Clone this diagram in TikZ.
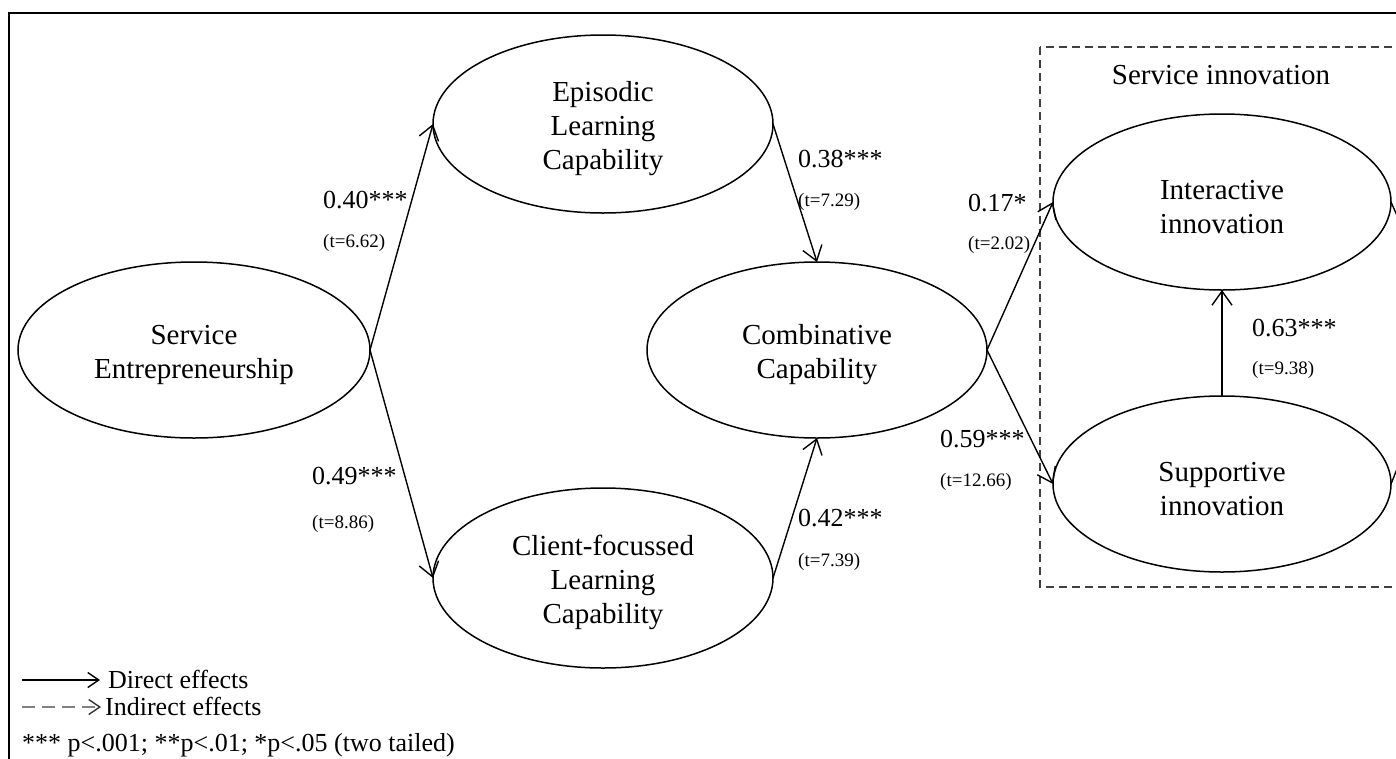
\documentclass[tikz,border=0pt]{standalone}
\usepackage{fontspec}
\setmainfont{Liberation Serif}
\usetikzlibrary{arrows.meta,shapes.geometric}
\newcommand{\firstline}{\rule{0pt}{30pt}}
\begin{document}
\begin{tikzpicture}[x=1pt,y=-1pt,
  latent/.style={draw, ellipse, line width=1.5pt, inner sep=0pt, outer sep=0pt, align=center, font=\fontsize{29}{34}\selectfont},
  pathArrow/.style={line width=1.4pt, -{Straight Barb[length=14pt,width=20pt,line width=1.4pt]}},
  coef/.style={anchor=base west, inner sep=0pt, font=\fontsize{26}{30}\selectfont},
  tval/.style={anchor=base west, inner sep=0pt, font=\fontsize{19}{22}\selectfont},
  legtext/.style={anchor=base west, inner sep=0pt, font=\fontsize{26}{30}\selectfont},
  legArrow/.style={line width=1.4pt, -{Straight Barb[length=11pt,width=15pt,line width=1.4pt]}}
]
\useasboundingbox (0,0) rectangle (1396,758);
\begin{scope}
\clip (0,0) rectangle (1396,758);
% outer frame
\draw[line width=2.5pt] (9,13) rectangle (1430,790);
% service innovation dashed box
\draw[line width=1.4pt, draw=black!75, dash pattern=on 8pt off 5pt] (1040,47) rectangle (1430,587);
\node[inner sep=0pt, font=\fontsize{29}{34}\selectfont] (sinnov) at (1221,75) {Service innovation};

% latent variables
\node[latent, minimum width=352pt, minimum height=176pt] (se) at (194,350) {\firstline Service\\Entrepreneurship};
\node[latent, minimum width=340pt, minimum height=178pt] (ep) at (603,124) {\firstline Episodic\\Learning\\Capability};
\node[latent, minimum width=340pt, minimum height=180pt] (cl) at (603,578) {\firstline Client-focussed\\Learning\\Capability};
\node[latent, minimum width=340pt, minimum height=176pt] (co) at (817,350) {\firstline Combinative\\Capability};
\node[latent, minimum width=338pt, minimum height=176pt] (in) at (1222,202) {\firstline Interactive\\innovation};
\node[latent, minimum width=338pt, minimum height=176pt] (su) at (1222,484) {\firstline Supportive\\innovation};

% paths
\draw[pathArrow] (se.east) -- (ep.west);
\draw[pathArrow] (se.east) -- (cl.west);
\draw[pathArrow] (ep.east) -- (co.north);
\draw[pathArrow] (cl.east) -- (co.south);
\draw[pathArrow] (co.east) -- (in.west);
\draw[pathArrow] (co.east) -- (su.west);
\draw[pathArrow] (su.north) -- (in.south);

% connectors leaving the picture on the right
\coordinate (offA) at (1399,220);
\coordinate (offB) at (1399,464);
\draw[line width=1.4pt] (in.east) -- (offA);
\draw[line width=1.4pt] (su.east) -- (offB);

% coefficients
\node[coef] (c1) at (323,208) {0.40***};
\node[tval] (t1) at (323,247) {(t=6.62)};
\node[coef] (c2) at (312,484) {0.49***};
\node[tval] (t2) at (312,528) {(t=8.86)};
\node[coef] (c3) at (798,167) {0.38***};
\node[tval] (t3) at (798,206) {(t=7.29)};
\node[coef] (c4) at (798,526) {0.42***};
\node[tval] (t4) at (798,566) {(t=7.39)};
\node[coef] (c5) at (968,211) {0.17*};
\node[tval] (t5) at (968,249) {(t=2.02)};
\node[coef] (c6) at (940,447) {0.59***};
\node[tval] (t6) at (940,486) {(t=12.66)};
\node[coef] (c7) at (1252,336) {0.63***};
\node[tval] (t7) at (1252,374) {(t=9.38)};

% legend
\coordinate (d1) at (22,680);
\coordinate (d2) at (100,680);
\draw[legArrow] (d1) -- (d2);
\node[legtext] (dtext) at (108,688) {Direct effects};
\coordinate (i1) at (22,707);
\coordinate (i2) at (101,707);
\draw[line width=1.4pt, draw=black!50, dash pattern=on 13pt off 7pt] (i1) -- ([xshift=-2pt]i2);
\draw[line width=1.4pt, draw=black!80, -{Straight Barb[length=11pt,width=15pt,line width=1.4pt]}] ([xshift=-3pt]i2) -- (i2);
\node[legtext] (itext) at (105,715) {Indirect effects};
\node[legtext] (ptext) at (22,751) {*** p<.001; **p<.01; *p<.05 (two tailed)};
\end{scope}
\end{tikzpicture}
\end{document}
